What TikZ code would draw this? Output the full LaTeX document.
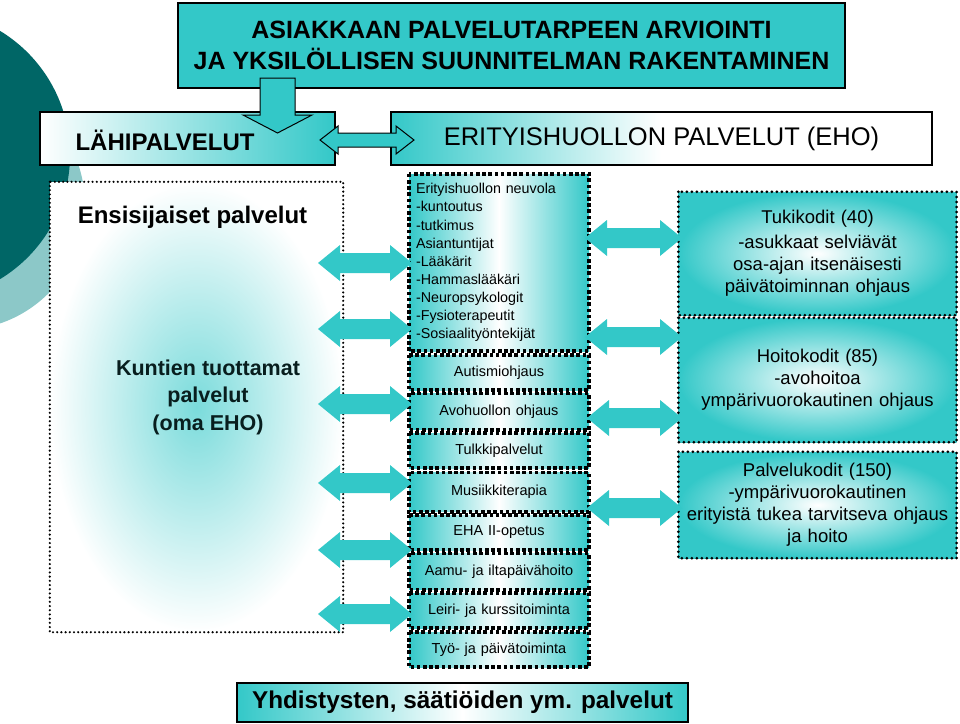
\documentclass[tikz,border=0pt]{standalone}
\usepackage{fontspec}
\setmainfont{Liberation Sans}
\definecolor{teal1}{RGB}{51,200,200}
\definecolor{darkc}{RGB}{0,102,102}
\definecolor{lightc}{RGB}{140,200,200}
\newcommand{\darr}[3]{\fill[teal1] (#1,#3) -- (#1+22,#3-18) -- (#1+22,#3-10) -- (#2-22,#3-10) -- (#2-22,#3-18) -- (#2,#3) -- (#2-22,#3+18) -- (#2-22,#3+10) -- (#1+22,#3+10) -- (#1+22,#3+18) -- cycle;}
\tikzset{
 sq/.style={draw=black,line width=3.6pt,dash pattern=on 3.6pt off 2.6pt},
 rd/.style={draw=black,line width=3pt,dash pattern=on 0pt off 5pt,line cap=round},
 mid/.style={inner sep=0pt,minimum width=180pt,text width=176pt,align=center,font=\fontsize{14.5}{16}\selectfont,left color=teal1,right color=teal1,middle color=white},
 rbox/.style={inner sep=0pt,minimum width=278pt,text width=276pt,align=center,font=\fontsize{18.5}{22}\selectfont,inner color=white,outer color=teal1},
}
\begin{document}
\begin{tikzpicture}[x=1pt,y=-1pt]
\useasboundingbox (0,0) rectangle (960,723);
\fill[lightc] (-40,205) circle[radius=125];
\fill[darkc] (-75,155) circle[radius=145];
% title
\node[draw=black,line width=1.5pt,fill=teal1,minimum width=667pt,minimum height=85pt,align=center,font=\bfseries\fontsize{25}{31}\selectfont] (title) at (511.5,45.5) {ASIAKKAAN PALVELUTARPEEN ARVIOINTI\\JA YKSILÖLLISEN SUUNNITELMAN RAKENTAMINEN};
% header boxes
\node[draw=black,line width=1.5pt,left color=white,right color=teal1,minimum width=295pt,minimum height=53pt] (lahi) at (187.5,138.5) {};
\node[anchor=west,font=\bfseries\fontsize{24}{28}\selectfont] (lahit) at (72,140) {LÄHIPALVELUT};
\node[draw=black,line width=1.5pt,left color=teal1,right color=white,middle color=white,minimum width=541pt,minimum height=53pt,font=\fontsize{25.5}{28}\selectfont] (eho) at (661.5,138.5) {ERITYISHUOLLON PALVELUT (EHO)};
% down arrow
\fill[teal1,draw=black,line width=1pt] (260,78) -- (295,78) -- (295,115) -- (312,115) -- (277.5,133) -- (243,115) -- (260,115) -- cycle;
% header double arrow
\fill[teal1,draw=black,line width=1pt] (320,140) -- (338,126) -- (338,133) -- (396,133) -- (396,126) -- (414,140) -- (396,154) -- (396,147) -- (338,147) -- (338,154) -- cycle;
% left box
\node[inner color=teal1!65,outer color=white,minimum width=293pt,minimum height=450pt] (ens) at (196.5,407) {};
\draw[rd,line width=2.4pt,dash pattern=on 0pt off 4.2pt] (ens.north west) rectangle (ens.south east);
\node[font=\bfseries\fontsize{24}{28}\selectfont] (enst) at (192.5,217) {Ensisijaiset palvelut};
\node[align=center,font=\bfseries\fontsize{21.5}{27.5}\selectfont,text=black!85!teal1] (kunt) at (208,397) {Kuntien tuottamat\\palvelut\\(oma EHO)};
% middle column
\node[mid,minimum height=177pt,text width=166pt,align=left,font=\fontsize{14.3}{18.1}\selectfont] (m1) at (499,262.5) {Erityishuollon neuvola\\-kuntoutus\\-tutkimus\\Asiantuntijat\\-Lääkärit\\-Hammaslääkäri\\-Neuropsykologit\\-Fysioterapeutit\\-Sosiaalityöntekijät};
\node[mid,minimum height=35pt] (m2) at (499,372.5) {Autismiohjaus};
\node[mid,minimum height=36pt] (m3) at (499,411.5) {Avohuollon ohjaus};
\node[mid,minimum height=35pt] (m4) at (499,450.5) {Tulkkipalvelut};
\node[mid,minimum height=39pt] (m5) at (499,492) {Musiikkiterapia};
\node[mid,minimum height=35pt] (m6) at (499,532.5) {EHA II-opetus};
\node[mid,minimum height=36pt] (m7) at (499,571.5) {Aamu- ja iltapäivähoito};
\node[mid,minimum height=35pt] (m8) at (499,610.5) {Leiri- ja kurssitoiminta};
\node[mid,minimum height=35pt] (m9) at (499,649.5) {Työ- ja päivätoiminta};
\foreach \n in {m1,m2,m3,m4,m5,m6,m7,m8,m9}
  \draw[sq] (\n.north west) rectangle (\n.south east);
% right boxes
\node[rbox,minimum height=123pt] (r1) at (817.5,253.5) {Tukikodit (40)\\[3pt]-asukkaat selviävät\\osa-ajan itsenäisesti\\päivätoiminnan ohjaus};
\node[rbox,minimum height=124pt] (r2) at (817.5,380) {Hoitokodit (85)\\-avohoitoa\\ympärivuorokautinen ohjaus};
\node[rbox,minimum height=106pt] (r3) at (817.5,505) {Palvelukodit (150)\\-ympärivuorokautinen\\erityistä tukea tarvitseva ohjaus\\ja hoito};
\foreach \n in {r1,r2,r3}
  \draw[rd] (\n.north west) rectangle (\n.south east);
% bottom
\node[draw=black,line width=1.5pt,left color=teal1,right color=teal1,middle color=white,minimum width=451pt,minimum height=39pt,font=\bfseries\fontsize{24.3}{28}\selectfont] (yhd) at (462.5,702.5) {Yhdistysten, säätiöiden ym. palvelut};
% left arrows
\darr{318}{412}{263}
\darr{318}{412}{329}
\darr{318}{412}{404}
\darr{318}{412}{483}
\darr{318}{412}{550}
\darr{318}{412}{614}
% right arrows
\darr{585}{682}{238}
\darr{585}{682}{337}
\darr{587}{682}{418}
\darr{587}{682}{508}
\end{tikzpicture}
\end{document}
